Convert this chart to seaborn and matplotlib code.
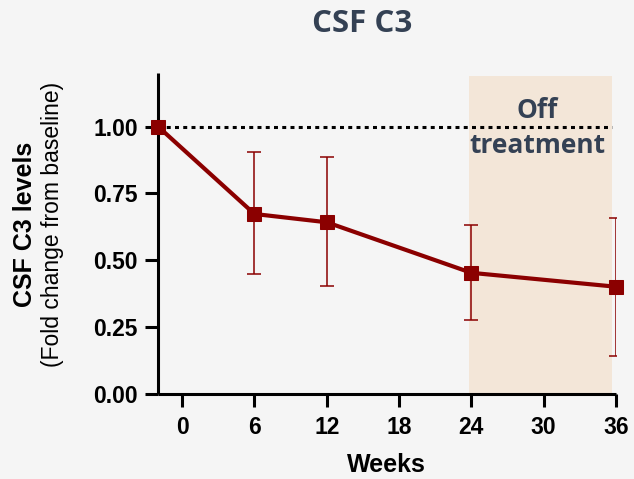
import matplotlib
matplotlib.use("Agg")
import matplotlib.pyplot as plt
import seaborn as sns
import pandas as pd

# Data
weeks = [-2, 6, 12, 24, 36]
fold_change = [1.00, 0.673, 0.642, 0.453, 0.401]
err_upper = [1.00, 0.906, 0.885, 0.630, 0.658]
err_lower = [1.00, 0.449, 0.403, 0.275, 0.142]
x_ticks = [0, 6, 12, 18, 24, 30, 36]
y_ticks = [0.00, 0.25, 0.50, 0.75, 1.00]
y_tick_labels = ["0.00", "0.25", "0.50", "0.75", "1.00"]
title = "CSF C3"
off_label = "Off\ntreatment"

df = pd.DataFrame({"Weeks": weeks, "FC": fold_change})

sns.set_style("ticks")
bg = "#F5F5F5"
red = "#8B0000"
slate = "#344154"

fig = plt.figure(figsize=(6.34, 4.79), dpi=100, facecolor=bg)
ax = fig.add_axes([158/634, 85/479, 458/634, 321/479])
ax.set_facecolor(bg)

# Off-treatment shaded region
ax.axvspan(23.8, 35.7, ymin=0, ymax=0.99, color="#F3E6D8", lw=0, zorder=0)
# Baseline dotted line
ax.plot([-2, 35.7], [1.0, 1.0], color="black", lw=2.2, linestyle=(0, (1.3, 1.4)),
        dash_capstyle="butt", zorder=1)

# Error bars
yerr = [[m - l for m, l in zip(fold_change, err_lower)],
        [u - m for m, u in zip(fold_change, err_upper)]]
eb_x = weeks[1:]
ax.errorbar(eb_x, fold_change[1:], yerr=[yerr[0][1:], yerr[1][1:]], fmt="none",
            ecolor=red, elinewidth=1.1, capsize=4.8, capthick=1.1, zorder=2)

sns.lineplot(data=df, x="Weeks", y="FC", ax=ax, color=red, lw=3, marker="s",
             markersize=9.5, markeredgecolor=red, markerfacecolor=red, zorder=3,
             clip_on=False)

ax.set_xlim(-2, 36)
ax.set_ylim(0, 1.2)
ax.set_xticks(x_ticks)
ax.set_xticklabels([str(t) for t in x_ticks])
ax.set_yticks(y_ticks)
ax.set_yticklabels(y_tick_labels)
ax.set_xlabel("")
ax.set_ylabel("")

for s in ["top", "right"]:
    ax.spines[s].set_visible(False)
for s in ["left", "bottom"]:
    ax.spines[s].set_linewidth(2.2)
    ax.spines[s].set_color("black")
    ax.spines[s].set_capstyle("butt")

ax.tick_params(axis="both", length=9.5, width=2.2, color="black", labelcolor="black")
ax.tick_params(axis="x", pad=6)
ax.tick_params(axis="y", pad=5)
for lab in ax.get_xticklabels() + ax.get_yticklabels():
    lab.set_fontfamily("Liberation Sans")
    lab.set_fontweight("bold")
    lab.set_fontsize(16.5)
    lab.set_color("black")

# Axis labels
fig.text(386.7/634, 1 - 465/479, "Weeks", ha="center", va="center",
         family="Liberation Sans", weight="bold", fontsize=18, color="black")
fig.text(25/634, 1 - 224/479, "CSF C3 levels", ha="center", va="center",
         rotation=90, family="Liberation Sans", weight="bold", fontsize=18,
         color="black")
fig.text(53/634, 1 - 224/479, "(Fold change from baseline)", ha="center",
         va="center", rotation=90, family="Liberation Sans", fontsize=16.5,
         color="black")

# Title
fig.text(362/634, 1 - 24.5/479, title, ha="center", va="center",
         family="Open Sans", weight="bold", fontsize=22.5, color=slate)

# Off treatment annotation
ax.text(29.5, 0.995, off_label, ha="center", va="center", family="Open Sans",
        weight="bold", fontsize=19, color=slate, linespacing=1.35, zorder=4)

fig.savefig("out.png", dpi=100, facecolor=bg)
